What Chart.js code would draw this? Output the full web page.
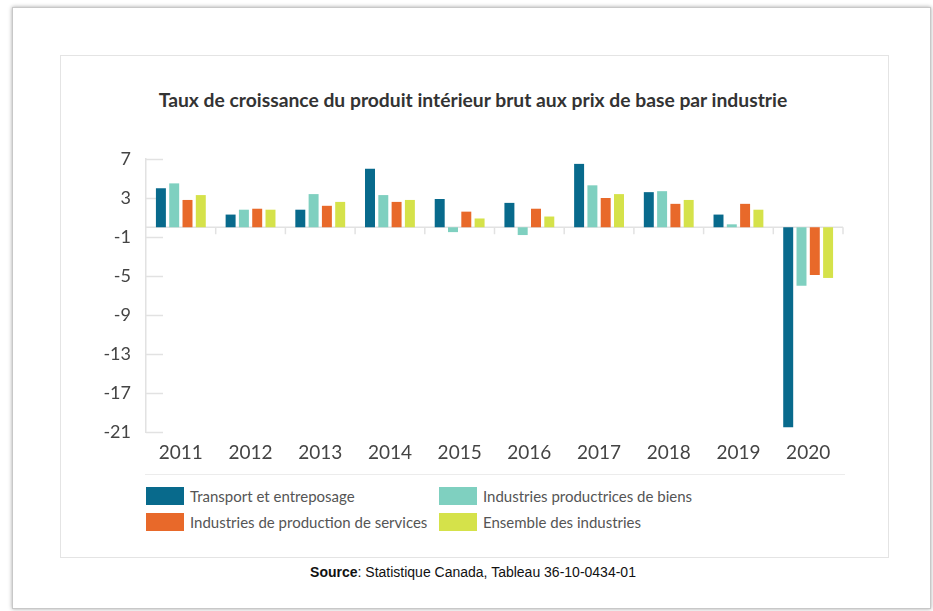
<!DOCTYPE html>
<html>
<head>
<meta charset="utf-8">
<script src="https://cdn.jsdelivr.net/npm/chart.js@4"></script>
<style>
  html, body { margin: 0; padding: 0; background: #fff; }
  body { width: 933px; height: 611px; position: relative; overflow: hidden; }
  .frame {
    position: absolute; left: 12px; top: 7px; width: 917px; height: 600px;
    border: 1px solid #c8c8c8; box-shadow: 0 0 4px rgba(0,0,0,0.35); background: #fff;
  }
  .panel {
    position: absolute; left: 60px; top: 55px; width: 827px; height: 501px;
    border: 1px solid #e4e4e4; background: #fff;
  }
  .title {
    position: absolute; left: 0; width: 946px; top: 88px; text-align: center;
    font-family: Lato, sans-serif; font-weight: bold; font-size: 19.3px; color: #333; white-space: nowrap;
  }
  #chartBox { position: absolute; left: 60px; top: 56px; width: 828px; height: 416px; }
  .divider { position: absolute; left: 145px; top: 474px; width: 700px; height: 1px; background: #ececec; }
  .legend { position: absolute; left: 146px; top: 487px; width: 600px; }
  .legend .item {
    position: absolute; display: flex; align-items: center;
    font-family: Lato, sans-serif; font-size: 15px; color: #555; white-space: nowrap;
  }
  .legend .swatch { width: 38px; height: 18px; margin-right: 6px; }
  .source {
    position: absolute; left: 0; width: 946px; top: 564px; text-align: center;
    font-family: "Liberation Sans", Arial, sans-serif; font-size: 14px; color: #111;
  }
</style>
</head>
<body>
<div class="frame"></div>
<div class="panel"></div>
<div class="title">Taux de croissance du produit intérieur brut aux prix de base par industrie</div>
<div id="chartBox"><canvas id="barChart"></canvas></div>
<div class="divider"></div>
<div class="legend" id="legend"></div>
<div class="source"><b>Source</b>: Statistique Canada, Tableau 36-10-0434-01</div>

<script>
const years = ['2011', '2012', '2013', '2014', '2015', '2016', '2017', '2018', '2019', '2020'];
const seriesNames = [
  'Transport et entreposage',
  'Industries productrices de biens',
  'Industries de production de services',
  'Ensemble des industries'
];
const seriesColors = ['#086a8c', '#7fd0c0', '#e8692a', '#d5e24a'];
const transport = [4.0, 1.3, 1.8, 6.0, 2.9, 2.5, 6.5, 3.6, 1.3, -20.5];
const goods = [4.5, 1.8, 3.4, 3.3, -0.5, -0.8, 4.3, 3.7, 0.3, -6.0];
const services = [2.8, 1.9, 2.2, 2.6, 1.6, 1.9, 3.0, 2.4, 2.4, -4.9];
const allIndustries = [3.3, 1.8, 2.6, 2.8, 0.9, 1.1, 3.4, 2.8, 1.8, -5.2];
const yTicks = [7, 3, -1, -5, -9, -13, -17, -21];

const seriesValues = [transport, goods, services, allIndustries];

// short tick marks on the y axis, the zero line and the category ticks under it
const axisMarks = {
  id: 'axisMarks',
  beforeDatasetsDraw(chart) {
    const ctx = chart.ctx;
    const area = chart.chartArea;
    const y = chart.scales.y;
    const x = chart.scales.x;
    const step = x.getPixelForValue(1) - x.getPixelForValue(0);
    ctx.save();
    ctx.strokeStyle = '#e2e2e2';
    ctx.lineWidth = 1.5;
    yTicks.forEach(v => {
      const py = Math.round(y.getPixelForValue(v)) + 0.5;
      ctx.beginPath();
      ctx.moveTo(area.left, py);
      ctx.lineTo(area.left + 17, py);
      ctx.stroke();
    });
    const zero = y.getPixelForValue(0);
    ctx.beginPath();
    ctx.moveTo(area.left, zero);
    ctx.lineTo(area.right, zero);
    ctx.stroke();
    for (let i = 0; i < years.length; i++) {
      const px = x.getPixelForValue(i) + step / 2;
      ctx.beginPath();
      ctx.moveTo(px, zero);
      ctx.lineTo(px, zero + 7);
      ctx.stroke();
    }
    ctx.restore();
  }
};

const barCtx = document.getElementById('barChart').getContext('2d');
const barChart = new Chart(barCtx, {
  type: 'bar',
  data: {
    labels: years,
    datasets: seriesNames.map((name, i) => ({
      label: name,
      data: seriesValues[i],
      backgroundColor: seriesColors[i],
      borderWidth: 0,
      categoryPercentage: 0.763,
      barPercentage: 0.75,
    }))
  },
  options: {
    responsive: true,
    maintainAspectRatio: false,
    animation: false,
    layout: { padding: { left: 0, right: 45, top: 103, bottom: 0 } },
    plugins: {
      legend: { display: false },
      tooltip: { enabled: false }
    },
    scales: {
      x: {
        afterFit: scale => { scale.height = 40; },
        grid: { display: false },
        border: { display: false },
        ticks: { color: '#444', font: { family: 'Lato', size: 19 }, padding: 1, maxRotation: 0 }
      },
      y: {
        min: -21,
        max: 7,
        afterFit: scale => { scale.width = 86; },
        afterBuildTicks: scale => { scale.ticks = yTicks.map(v => ({ value: v })); },
        grid: { display: false },
        border: { display: true, color: '#e2e2e2', width: 1.5 },
        ticks: { color: '#444', font: { family: 'Lato', size: 18 }, padding: 7 }
      }
    }
  },
  plugins: [axisMarks]
});

// legend in two columns
const legendEl = document.getElementById('legend');
const legendPos = [[0, 0], [293, 0], [0, 26], [293, 26]];
seriesNames.forEach((name, i) => {
  const item = document.createElement('div');
  item.className = 'item';
  item.style.left = legendPos[i][0] + 'px';
  item.style.top = legendPos[i][1] + 'px';
  item.innerHTML = '<span class="swatch" style="background:' + seriesColors[i] + '"></span>' + name;
  legendEl.appendChild(item);
});
</script>
</body>
</html>
